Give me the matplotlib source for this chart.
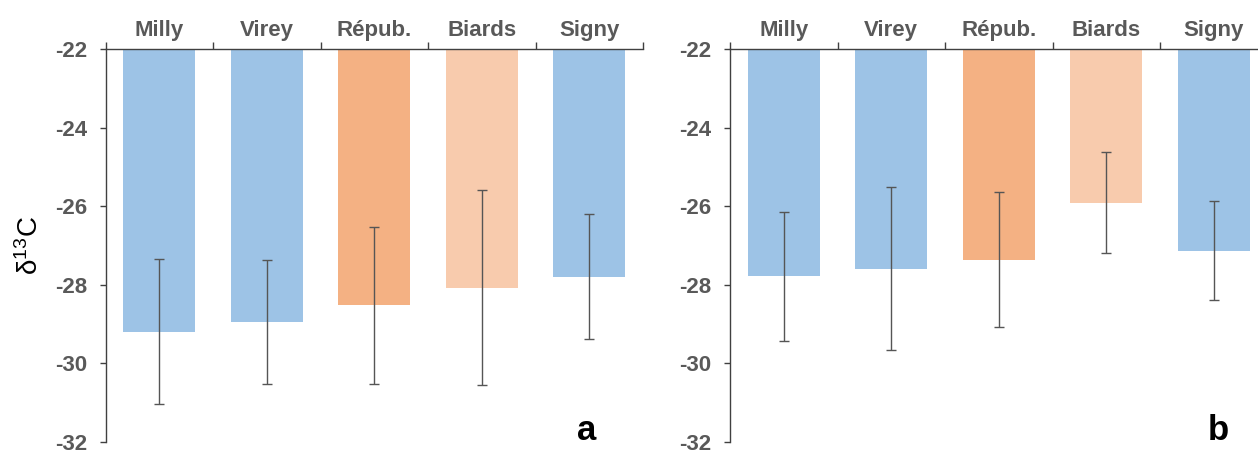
import matplotlib
matplotlib.use("Agg")
import matplotlib.pyplot as plt
import numpy as np

plt.rcParams['font.family'] = ['Liberation Sans', 'DejaVu Sans']
plt.rcParams['mathtext.fontset'] = 'custom'
plt.rcParams['mathtext.rm'] = 'Liberation Sans'
plt.rcParams['mathtext.it'] = 'Liberation Sans:italic'

sites = ["Milly", "Virey", "Répub.", "Biards", "Signy"]
colors = ["#9DC3E6", "#9DC3E6", "#F4B183", "#F8CBAD", "#9DC3E6"]

# panel a: mean d13C and standard deviation per site
mean_a = [-29.19, -28.95, -28.52, -28.07, -27.79]
sd_a = [1.85, 1.58, 2.00, 2.48, 1.60]

# panel b
mean_b = [-27.78, -27.59, -27.36, -25.91, -27.13]
sd_b = [1.64, 2.08, 1.72, 1.29, 1.26]

baseline = -22
yticks = [-32, -30, -28, -26, -24, -22]

W, H = 1258, 450
fig = plt.figure(figsize=(W / 100, H / 100), dpi=100)

tick_grey = "#595959"
spine_col = "#404040"


def draw_panel(ax, means, sds, letter, letter_x):
    x = np.arange(len(sites))
    heights = [m - baseline for m in means]
    ax.bar(x, heights, bottom=baseline, width=0.67, color=colors,
           edgecolor="none", zorder=2)
    ax.errorbar(x, means, yerr=sds, fmt="none", ecolor="#555555",
                elinewidth=1.0, capsize=3.5, capthick=1.0, zorder=3)
    ax.set_xlim(-0.5, len(sites) - 0.5)
    ax.set_ylim(-32, -22)
    ax.set_yticks(yticks)
    ax.set_yticklabels([str(t) for t in yticks])
    for s in ["bottom", "right"]:
        ax.spines[s].set_visible(False)
    for s in ["left", "top"]:
        ax.spines[s].set_color(spine_col)
        ax.spines[s].set_linewidth(1.0)
    ax.tick_params(axis="y", direction="out", length=4.5, width=1,
                   color=spine_col, pad=9, labelsize=16,
                   labelcolor=tick_grey)
    for lab in ax.get_yticklabels():
        lab.set_fontweight("bold")
    # category boundaries as major ticks, site names as minor tick labels
    ax.xaxis.tick_top()
    ax.set_xticks(np.arange(len(sites) + 1) - 0.5)
    ax.set_xticklabels([])
    ax.set_xticks(x, minor=True)
    ax.set_xticklabels(sites, minor=True, fontsize=16, fontweight="bold",
                       color=tick_grey)
    ax.tick_params(axis="x", which="major", direction="out", length=5,
                   width=1, color=spine_col, top=True, bottom=False)
    ax.tick_params(axis="x", which="minor", length=0, pad=6,
                   top=True, bottom=False, labeltop=True, labelbottom=False)
    ax.text(letter_x, 0.005, letter, transform=ax.transAxes, fontsize=25,
            fontweight="bold", color="black", ha="center", va="baseline")


axw = 537.5 / W
axh = 393 / H
axb = 8 / H
ax_a = fig.add_axes([105.5 / W, axb, axw, axh])
ax_b = fig.add_axes([730 / W, axb, axw, axh])

draw_panel(ax_a, mean_a, sd_a, "a", 0.896)
draw_panel(ax_b, mean_b, sd_b, "b", 0.909)

ax_a.set_ylabel(r"δ$^{13}$C", fontsize=20, color="black", labelpad=8)

fig.savefig("out.png", dpi=100)
